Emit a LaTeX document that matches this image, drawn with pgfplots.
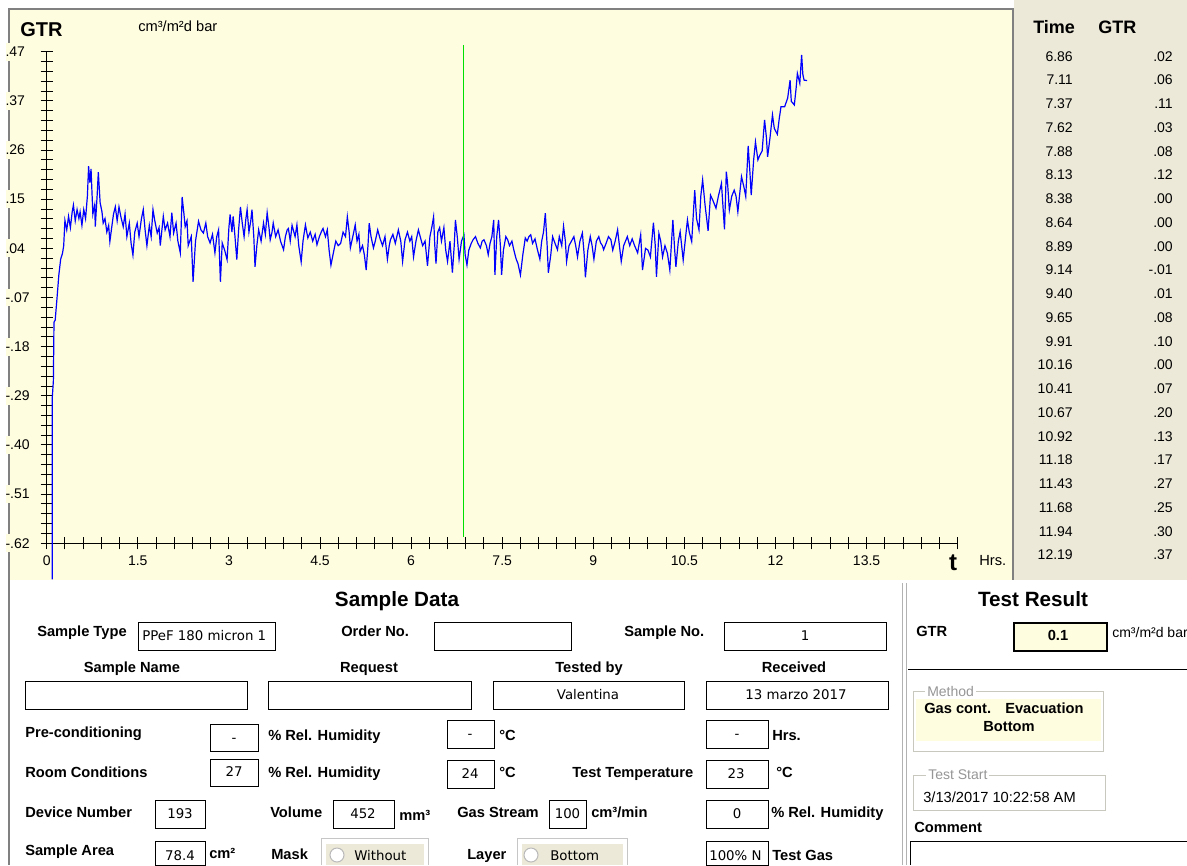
\documentclass[border=0pt]{standalone}
\usepackage{fontspec}
\setmainfont{Liberation Sans}
\newfontfamily\dv{DejaVu Sans}
\usepackage{pgfplots}
\usepackage{pgfplotstable}
\pgfplotsset{compat=1.18}

\definecolor{chartbg}{RGB}{255,253,224}
\definecolor{panel}{RGB}{236,233,216}
\definecolor{frame}{RGB}{128,128,128}
\definecolor{markerline}{rgb}{0,0.88,0}
\definecolor{grp}{RGB}{200,200,190}
\definecolor{grptxt}{RGB}{150,150,150}
\newcommand\fs[1]{\fontsize{#1}{#1}\selectfont}

% GTR trace, time in hours
\pgfplotstableread{
t y
0.090 -0.700
0.090 -0.300
0.110 -0.260
0.120 -0.130
0.140 -0.125
0.170 -0.076
0.200 -0.025
0.230 0.010
0.260 0.023
0.280 0.040
0.300 0.096
0.330 0.075
0.360 0.105
0.390 0.080
0.420 0.115
0.440 0.130
0.470 0.095
0.500 0.120
0.530 0.100
0.550 0.115
0.580 0.085
0.610 0.120
0.640 0.100
0.670 0.150
0.690 0.216
0.710 0.180
0.730 0.210
0.760 0.110
0.790 0.130
0.800 0.082
0.830 0.150
0.850 0.203
0.880 0.135
0.910 0.115
0.930 0.090
0.960 0.100
0.990 0.070
1.020 0.085
1.040 0.049
1.070 0.080
1.100 0.110
1.130 0.126
1.160 0.095
1.190 0.126
1.220 0.105
1.260 0.082
1.290 0.110
1.320 0.060
1.360 0.090
1.390 0.045
1.420 0.019
1.450 0.070
1.490 0.090
1.520 0.060
1.560 0.100
1.590 0.120
1.620 0.075
1.650 0.040
1.690 0.085
1.720 0.060
1.750 0.120
1.780 0.095
1.820 0.068
1.850 0.080
1.870 0.040
1.920 0.105
1.950 0.075
1.990 0.090
2.030 0.060
2.060 0.113
2.090 0.068
2.130 0.090
2.160 0.050
2.200 0.024
2.230 0.148
2.260 0.110
2.280 0.082
2.310 0.095
2.330 0.040
2.380 0.060
2.410 -0.040
2.450 0.050
2.500 0.094
2.540 0.075
2.580 0.068
2.620 0.090
2.650 0.060
2.690 0.046
2.730 0.065
2.770 0.024
2.800 0.060
2.830 0.075
2.860 -0.040
2.890 0.046
2.930 0.030
2.970 0.009
3.000 0.080
3.020 0.109
3.050 0.070
3.070 0.105
3.100 0.060
3.130 0.009
3.160 0.075
3.190 0.126
3.220 0.090
3.250 0.060
3.280 0.100
3.300 0.120
3.330 0.070
3.360 0.095
3.380 0.120
3.410 0.060
3.430 -0.007
3.460 0.040
3.490 0.075
3.530 0.050
3.570 0.090
3.600 0.065
3.630 0.113
3.660 0.080
3.680 0.053
3.710 0.070
3.730 0.090
3.770 0.060
3.810 0.075
3.850 0.050
3.900 0.031
3.930 0.060
3.960 0.075
3.980 0.078
4.010 0.050
4.040 0.085
4.060 0.075
4.090 0.060
4.120 0.086
4.150 0.040
4.190 0.004
4.220 0.050
4.260 0.086
4.300 0.057
4.340 0.070
4.380 0.050
4.420 0.065
4.450 0.042
4.490 0.060
4.520 0.070
4.550 0.078
4.590 0.060
4.620 0.075
4.650 0.030
4.680 -0.003
4.720 0.024
4.760 0.050
4.800 0.040
4.840 0.045
4.880 0.070
4.920 0.060
4.950 0.104
4.980 0.070
5.000 0.035
5.040 0.060
5.080 0.086
5.110 0.050
5.140 0.065
5.160 0.027
5.200 0.040
5.230 0.020
5.260 -0.014
5.290 0.040
5.310 0.090
5.340 0.060
5.380 0.035
5.410 0.050
5.450 0.075
5.490 0.055
5.530 0.040
5.570 0.060
5.610 0.010
5.640 0.040
5.660 0.053
5.700 0.065
5.740 0.045
5.790 0.075
5.830 0.050
5.860 0.005
5.900 0.053
5.940 0.070
5.980 0.050
6.010 0.060
6.040 0.015
6.080 0.050
6.120 0.075
6.150 0.060
6.190 0.040
6.230 0.050
6.270 -0.005
6.310 0.060
6.340 0.080
6.370 0.104
6.390 0.040
6.410 0.000
6.440 0.070
6.470 0.080
6.500 0.050
6.540 0.080
6.570 0.030
6.600 0.005
6.640 0.050
6.680 -0.020
6.710 0.040
6.730 0.097
6.760 0.060
6.790 0.010
6.830 0.050
6.870 0.064
6.890 0.020
6.920 -0.003
6.950 0.030
6.990 0.045
7.020 0.053
7.060 0.060
7.100 0.045
7.140 0.035
7.170 0.050
7.200 0.053
7.240 0.040
7.270 0.020
7.300 0.045
7.330 0.060
7.360 0.097
7.380 -0.025
7.410 0.060
7.440 0.097
7.470 0.040
7.490 -0.025
7.520 0.030
7.560 0.060
7.590 0.053
7.620 0.040
7.660 0.050
7.690 0.031
7.730 0.010
7.760 0.000
7.800 -0.025
7.840 0.020
7.880 0.057
7.910 0.050
7.940 0.060
7.970 0.064
8.000 0.045
8.040 0.055
8.080 0.031
8.120 0.010
8.150 0.050
8.180 0.070
8.210 0.112
8.240 0.040
8.260 -0.020
8.300 0.020
8.330 0.060
8.370 0.045
8.410 0.031
8.440 0.060
8.480 0.040
8.510 0.083
8.540 0.050
8.560 0.005
8.600 0.040
8.640 0.050
8.680 0.060
8.710 0.040
8.740 0.015
8.780 0.050
8.820 0.068
8.850 0.020
8.870 -0.030
8.910 0.030
8.950 0.060
8.980 0.040
9.010 0.010
9.050 0.050
9.090 0.060
9.120 0.046
9.150 0.040
9.170 0.031
9.210 0.045
9.250 0.060
9.290 0.053
9.320 0.030
9.360 0.050
9.400 0.075
9.430 0.040
9.460 0.005
9.500 0.040
9.530 0.050
9.560 0.060
9.600 0.040
9.640 0.055
9.680 0.040
9.730 0.024
9.780 0.064
9.810 -0.014
9.860 0.034
9.900 0.030
9.940 0.015
9.990 0.091
10.020 0.040
10.040 -0.029
10.080 0.067
10.110 0.050
10.140 0.015
10.180 0.040
10.220 0.023
10.260 -0.014
10.310 0.097
10.340 0.030
10.360 -0.007
10.400 0.050
10.430 0.071
10.480 0.008
10.520 0.060
10.550 0.097
10.580 0.070
10.620 0.049
10.670 0.163
10.700 0.100
10.740 0.075
10.770 0.150
10.800 0.186
10.840 0.130
10.890 0.073
10.930 0.152
10.970 0.140
11.020 0.123
11.060 0.150
11.110 0.178
11.160 0.076
11.190 0.204
11.210 0.180
11.240 0.119
11.280 0.150
11.320 0.163
11.350 0.150
11.380 0.115
11.440 0.193
11.480 0.170
11.510 0.149
11.550 0.261
11.580 0.200
11.600 0.152
11.640 0.230
11.670 0.270
11.710 0.230
11.740 0.240
11.780 0.250
11.820 0.319
11.850 0.280
11.870 0.237
11.910 0.280
11.950 0.330
11.980 0.300
12.030 0.287
12.060 0.320
12.090 0.348
12.150 0.348
12.200 0.367
12.240 0.407
12.260 0.360
12.310 0.352
12.340 0.390
12.360 0.422
12.400 0.400
12.430 0.463
12.450 0.420
12.470 0.407
12.520 0.406
}\gtrdata

% time of the selected reading (first row of the value table)
\pgfplotstableread{
t y
6.86 0.485
6.86 -0.606
}\cursor

\begin{document}
\begin{tikzpicture}[
  lb/.style={anchor=west, inner sep=0pt, text height=7.9pt, text depth=0pt, font=\fs{11}\bfseries},
  lbc/.style={lb, anchor=center},
  tx/.style={anchor=west, inner sep=0pt, text height=7.9pt, text depth=0pt, font=\fs{11}},
  val/.style={anchor=center, inner sep=0pt, text height=7.3pt, text depth=0pt, font=\dv\fs{10}},
  bx/.style={draw=black, line width=0.75pt},
  tv/.style={anchor=east, inner sep=0pt, text height=7.5pt, text depth=0pt, font=\fs{10.5}}]
\path[use as bounding box] (0,0) rectangle (890.25pt,-648.75pt);
\fill[white] (0,0) rectangle (890.25pt,-648.75pt);

\begin{scope}[x=0.75pt,y=-0.75pt]
% chart panel and value table panel
\fill[chartbg] (9,8) rectangle (1013,580);
\fill[panel] (1014,0) rectangle (1187,580);
\draw[frame, line width=1.5pt] (8,8.5) -- (1013,8.5);
\draw[frame, line width=1.5pt] (8.5,8) -- (8.5,865);
\draw[frame, line width=1.5pt] (1012.5,8) -- (1012.5,580);
\node[lb, font=\fs{15}\bfseries, text height=10.8pt] at (20,29.5) {GTR};
\node[tx] at (138,26) {cm³/m²d bar};
\node[anchor=center, inner sep=0pt, font=\fs{18}\bfseries] at (953,563) {t};
\node[tx] at (979,560.5) {Hrs.};

% value table
\node[lb, font=\fs{13.5}\bfseries, text height=9.7pt] at (1033,27.5) {Time};
\node[lb, font=\fs{13.5}\bfseries, text height=9.7pt] at (1098,27.5) {GTR};
\foreach \tm/\g [count=\i from 0] in {6.86/.02,7.11/.06,7.37/.11,7.62/.03,7.88/.08,8.13/.12,8.38/.00,8.64/.00,8.89/.00,9.14/-.01,9.40/.01,9.65/.08,9.91/.10,10.16/.00,10.41/.07,10.67/.20,10.92/.13,11.18/.17,11.43/.27,11.68/.25,11.94/.30,12.19/.37}{
  \node[tv] at (1073,56.2+23.74*\i) {\tm};
  \node[tv] at (1173,56.2+23.74*\i) {\g};
}
\end{scope}

\begin{axis}[
  at={(35.025pt,-407.475pt)}, anchor=south west,
  scale only axis, width=683.25pt, height=368.7pt,
  xmin=0, xmax=15, ymin=-0.62, ymax=0.47,
  axis x line=bottom, axis y line=left,
  axis line style={-, black, line width=0.75pt},
  xtick={0,1.5,3,4.5,6,7.5,9,10.5,12,13.5,15},
  xticklabels={0,1.5,3,4.5,6,7.5,9,10.5,12,13.5,{}},
  minor x tick num=4,
  ytick={-0.62,-0.511,-0.402,-0.293,-0.184,-0.075,0.034,0.143,0.252,0.361,0.47},
  yticklabels={-.62,-.51,-.40,-.29,-.18,-.07,.04,.15,.26,.37,.47},
  minor y tick num=4,
  tick align=center, major tick length=9pt, minor tick length=9pt,
  tick style={black, line width=0.75pt},
  xticklabel style={anchor=north, inner ysep=0pt, inner xsep=1pt, yshift=-4.5pt, font=\fs{10.5}},
  yticklabel style={anchor=west, inner xsep=0pt, inner ysep=3pt, fill=chartbg, xshift=-26.6pt, font=\fs{10.5}},
  clip=false,
]
\addplot[mark=none, line width=0.9pt, draw=blue] table[x=t, y=y] {\gtrdata};
\addplot[mark=none, line width=1pt, color=markerline] table[x=t, y=y] {\cursor};
\end{axis}

\begin{scope}[x=0.75pt,y=-0.75pt]
% Sample Data form
\node[lbc, font=\fs{15.5}\bfseries, text height=11.1pt] at (397,599) {Sample Data};
\node[lb] at (37,631) {Sample Type};
\draw[bx] (138.5,622) rectangle (275.5,650);
\begin{scope}
  \clip (139,622) rectangle (275,650);
  \node[val, anchor=west] at (142,636) {PPeF 180 micron 1};
\end{scope}
\node[lb] at (341,631) {Order No.};
\draw[bx] (434,622) rectangle (571,650);
\node[lb] at (624,631) {Sample No.};
\draw[bx] (724,622) rectangle (886,650);
\node[val] at (805,636) {1};

\node[lbc] at (132,667) {Sample Name};
\node[lbc] at (369,667) {Request};
\node[lbc] at (589,667) {Tested by};
\node[lbc] at (794,667) {Received};
\draw[bx] (25,681) rectangle (247,709);
\draw[bx] (268,681) rectangle (471,709);
\draw[bx] (493,681) rectangle (684,709);
\node[val] at (588,695) {Valentina};
\draw[bx] (706,681) rectangle (888,709);
\node[val] at (796,695) {13 marzo 2017};

\node[lb] at (25,732) {Pre-conditioning};
\draw[bx] (210,724) rectangle (258,751);
\node[val] at (234,737.5) {-};
\node[lb] at (268,735) {\% Rel. Humidity};
\draw[bx] (447,720) rectangle (494,748);
\node[val] at (470,734) {-};
\node[lb] at (499,735) {°C};
\draw[bx] (706,720) rectangle (768,748);
\node[val] at (737,734) {-};
\node[lb] at (772,735) {Hrs.};

\node[lb] at (25,772) {Room Conditions};
\draw[bx] (210,759) rectangle (258,786);
\node[val] at (234,771.5) {27};
\node[lb] at (268,772) {\% Rel. Humidity};
\draw[bx] (447,760) rectangle (494,788);
\node[val] at (470,774) {24};
\node[lb] at (499,772) {°C};
\node[lb] at (572,772) {Test Temperature};
\draw[bx] (706,760) rectangle (768,788);
\node[val] at (736,774) {23};
\node[lb] at (776,772) {°C};

\node[lb] at (25,812) {Device Number};
\draw[bx] (155,800) rectangle (205,828);
\node[val] at (180,814) {193};
\node[lb] at (270,812) {Volume};
\draw[bx] (333,800) rectangle (394,828);
\node[val] at (363,813.5) {452};
\node[lb] at (399,815) {mm³};
\node[lb] at (457,812) {Gas Stream};
\draw[bx] (549,800) rectangle (586,828);
\node[val] at (567.5,814) {100};
\node[lb] at (591,812) {cm³/min};
\draw[bx] (706,800) rectangle (768,828);
\node[val] at (737,814) {0};
\node[lb] at (771,812) {\% Rel. Humidity};

\node[lb] at (25,850) {Sample Area};
\draw[bx] (155,841) rectangle (205,865);
\node[val] at (180,856) {78.4};
\node[lb] at (209,853) {cm²};
\node[lb] at (271,854) {Mask};
\draw[gray!45, line width=0.75pt] (321,838) -- (321,865) (321,838) -- (428,838) -- (428,865);
\fill[panel] (326,844) rectangle (424,865);
\draw[gray!55, fill=white, line width=0.75pt] (337,855) circle (7);
\node[val, anchor=west] at (354,856) {Without};
\node[lb] at (467,854) {Layer};
\draw[gray!45, line width=0.75pt] (517,838) -- (517,865) (517,838) -- (627,838) -- (627,865);
\fill[panel] (522,844) rectangle (623,865);
\draw[gray!55, fill=white, line width=0.75pt] (531,855) circle (7);
\node[val, anchor=west] at (550,856) {Bottom};
\draw[bx] (706,841) rectangle (768,865);
\node[val, anchor=west] at (709,856) {100\% N};
\node[lb] at (772,855) {Test Gas};

% separator
\draw[gray!60, line width=0.75pt] (902,583) -- (902,865);
\draw[gray!60, line width=0.75pt] (906.5,583) -- (906.5,865);

% Test Result panel
\node[lbc, font=\fs{15.5}\bfseries, text height=11.1pt] at (1033,599) {Test Result};
\node[lb] at (916,631) {GTR};
\draw[black, line width=1.5pt, fill=chartbg] (1014,623) rectangle (1107,651);
\node[lbc] at (1058,635) {0.1};
\node[tx, font=\fs{10.5}] at (1112,632) {cm³/m²d bar};
\draw[black, line width=0.75pt] (908,669) -- (1187,669);
\draw[grp, line width=0.75pt] (913,691) rectangle (1103,751);
\fill[chartbg] (916,699) rectangle (1101,741);
\node[tx, fill=white, inner xsep=1.5pt, text=grptxt, font=\fs{10.5}] at (925,691) {Method};
\node[lb] at (924,708) {Gas cont.};
\node[lb] at (1005,708) {Evacuation};
\node[lbc] at (1009,726) {Bottom};
\draw[grp, line width=0.75pt] (913,775) rectangle (1105,810);
\node[tx, fill=white, inner xsep=1.5pt, text=grptxt, font=\fs{10.5}] at (926,774) {Test Start};
\node[tx] at (923,797) {3/13/2017 10:22:58 AM};
\node[lb] at (914,827) {Comment};
\draw[black, line width=0.75pt] (910,841) -- (1187,841) (910,841) -- (910,865);
\end{scope}
\end{tikzpicture}
\end{document}
